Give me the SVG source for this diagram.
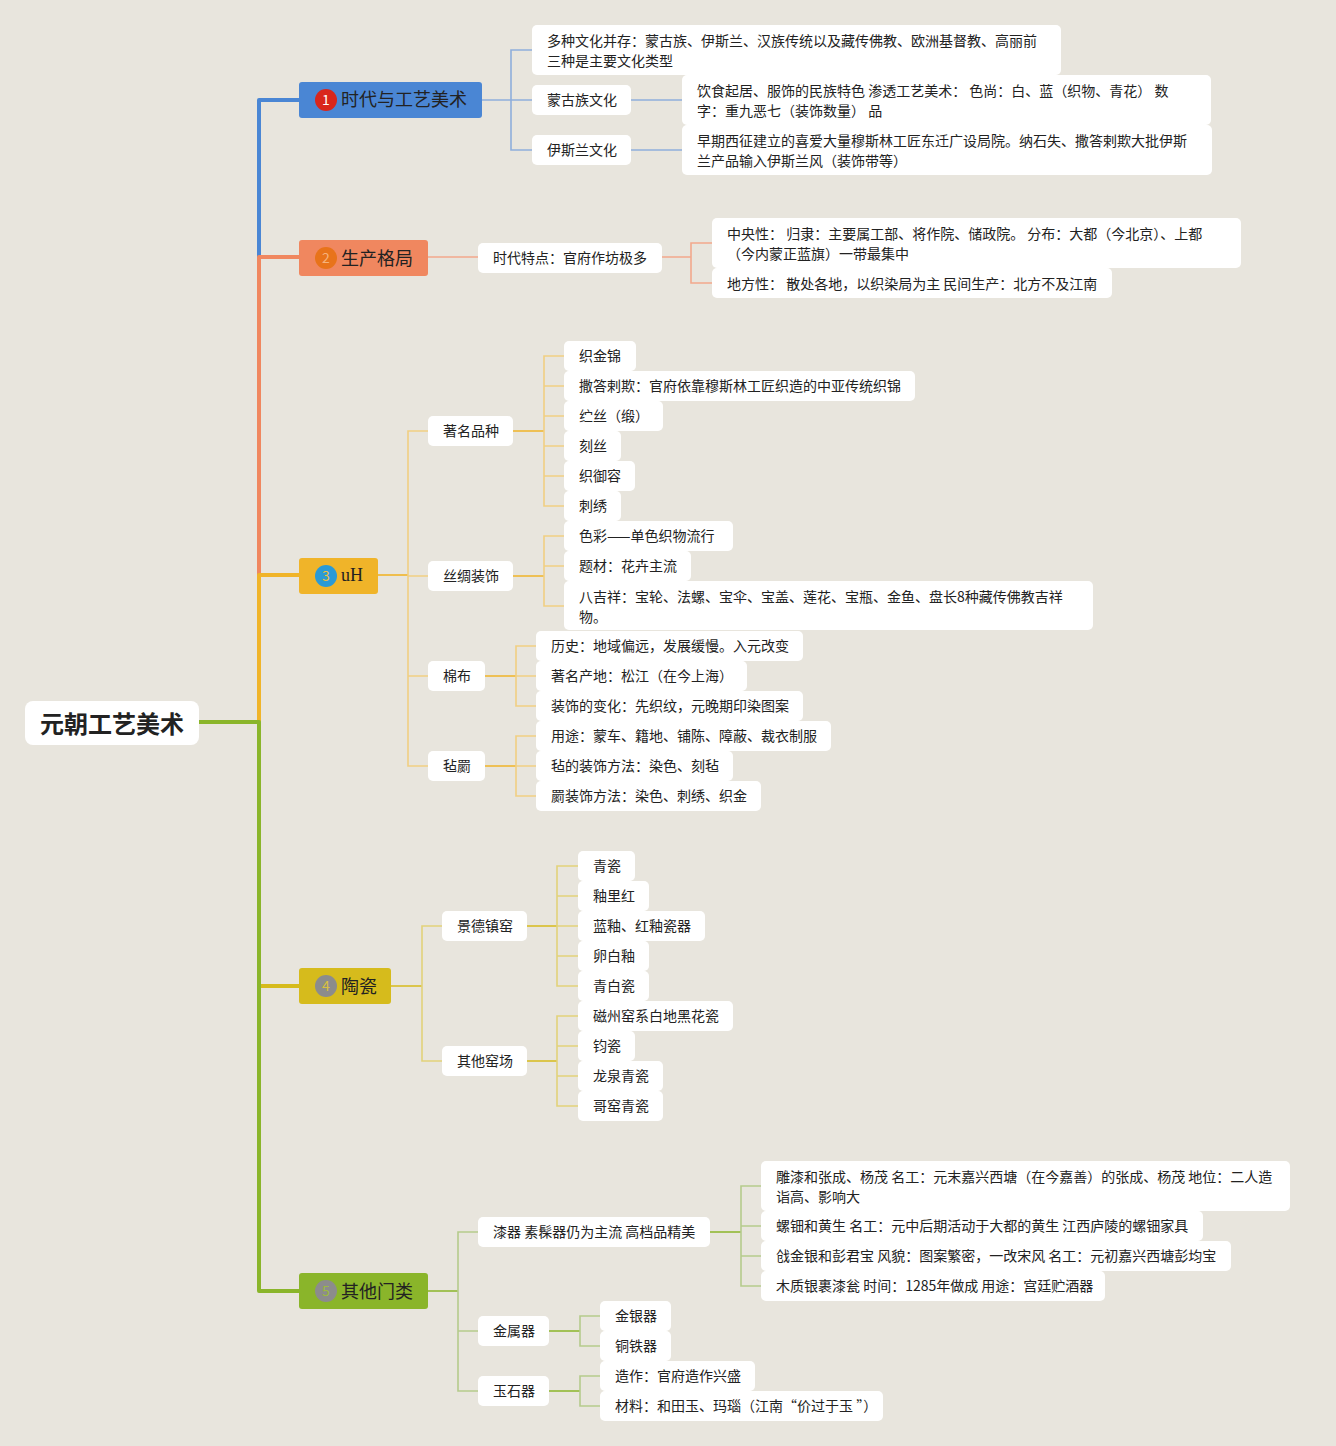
<svg xmlns="http://www.w3.org/2000/svg" width="1336" height="1446" viewBox="0 0 1336 1446">
<style>
text{font-family:"Noto Sans CJK SC","Noto Sans",sans-serif;fill:#222;}
.t{font-size:14px;}
.b{font-size:18px;}
.n{fill:#fff;}
.main{fill:none;stroke-width:4;stroke-linejoin:round;}
.c{fill:none;stroke-width:1.6;}
.c1{stroke:#8eaedb;}
.c2{stroke:#f2a88c;}
.c3{stroke:#f1cf82;}
.c3s{stroke:#f0b429;}
.c4{stroke:#e2d27a;}
.c4s{stroke:#d6bb1c;}
.c5{stroke:#b5cb8c;}
.c5s{stroke:#8ab52a;}
.num{font-size:14px;text-anchor:middle;}
</style>
<rect width="1336" height="1446" fill="#e8e5dd"/>
<g id="connectors">
<path class="main" stroke="#4a86d4" d="M199,722 H259 V100 H299"/>
<path class="main" stroke="#f0875f" d="M199,722 H259 V257 H299"/>
<path class="main" stroke="#f0b429" d="M199,722 H259 V575 H299"/>
<path class="main" stroke="#d6bb1c" d="M199,722 H259 V986 H299"/>
<path class="main" stroke="#8ab52a" d="M199,722 H259 V1291 H299"/>
<!-- branch 1 -->
<path class="c c1" d="M482,100 H511 M532,50 H511 V150 H532 M511,100 H532 M631,100 H682 M631,150 H682"/>
<!-- branch 2 -->
<path class="c c2" d="M428,257 H478 M662,257 H691 M712,243 H691 V283 H712"/>
<!-- branch 3 -->
<path class="c c3s" stroke-width="2" d="M378,575 H408"/>
<path class="c c3" d="M428,431 H408 V766 H428 M408,576 H428 M408,676 H428"/>
<path class="c c3s" stroke-width="2" d="M513,431 H544 M513,576 H544 M485,676 H516 M485,766 H516"/>
<path class="c c3" d="M564,356 H544 V506 H564 M544,386 H564 M544,416 H564 M544,446 H564 M544,476 H564 M564,536 H544 V606 H564 M544,566 H564 M536,646 H516 V706 H536 M516,676 H536 M536,736 H516 V796 H536 M516,766 H536"/>
<!-- branch 4 -->
<path class="c c4s" stroke-width="2" d="M391,986 H422 M527,926 H557 M527,1061 H557"/>
<path class="c c4" d="M442,926 H422 V1061 H442 M578,866 H557 V986 H578 M557,896 H578 M557,926 H578 M557,956 H578 M578,1016 H557 V1106 H578 M557,1046 H578 M557,1076 H578"/>
<!-- branch 5 -->
<path class="c c5s" stroke-width="2" d="M428,1291 H458 M710,1232 H741 M549,1331 H580 M549,1391 H580"/>
<path class="c c5" d="M478,1232 H458 V1391 H478 M458,1331 H478 M761,1186 H741 V1286 H761 M741,1226 H761 M741,1256 H761 M600,1316 H580 V1346 H600 M600,1376 H580 V1406 H600"/>
</g>
<g id="root"><rect x="25" y="701" width="174" height="44" rx="8" class="n"/><text x="112" y="733" font-size="24" font-weight="bold" text-anchor="middle" fill="#111">元朝工艺美术</text></g>

<g id="b1"><rect x="299" y="82" width="183" height="36" rx="3" fill="#4a86d4"/><circle cx="326" cy="100" r="11" fill="#d9261c"/><text x="326" y="105" class="num" fill="#fff" style="fill:#fff">1</text><text x="341" y="106" class="b">时代与工艺美术</text></g>
<g id="b2"><rect x="299" y="240" width="129" height="36" rx="3" fill="#f0875f"/><circle cx="326" cy="258" r="11" fill="#e8731a"/><text x="326" y="263" class="num" style="fill:#f6b27a">2</text><text x="341" y="265" class="b">生产格局</text></g>
<g id="b3"><rect x="299" y="558" width="79" height="36" rx="3" fill="#f0b429"/><circle cx="326" cy="576" r="11" fill="#2a9ad6"/><text x="326" y="581" class="num" style="fill:#f0c040">3</text><text x="341" y="581" font-size="18" style="font-family:'Liberation Serif',serif;fill:#222">uH</text></g>
<g id="b4"><rect x="299" y="968" width="92" height="36" rx="3" fill="#d6bb1c"/><circle cx="326" cy="986" r="11" fill="#8c8c8c"/><text x="326" y="991" class="num" style="fill:#d8c040">4</text><text x="341" y="993" class="b">陶瓷</text></g>
<g id="b5"><rect x="299" y="1273" width="129" height="36" rx="3" fill="#8ab52a"/><circle cx="326" cy="1291" r="11" fill="#8c8c8c"/><text x="326" y="1296" class="num" style="fill:#9cba40">5</text><text x="341" y="1298" class="b">其他门类</text></g>

<!-- branch 1 children -->
<g id="n1a"><rect x="532" y="25" width="529" height="50" rx="5" class="n"/><text x="547" y="46" class="t">多种文化并存：蒙古族、伊斯兰、汉族传统以及藏传佛教、欧洲基督教、高丽前</text><text x="547" y="66" class="t">三种是主要文化类型</text></g>
<g id="n1b"><rect x="532" y="85" width="99" height="30" rx="5" class="n"/><text x="547" y="105" class="t">蒙古族文化</text></g>
<g id="n1b1"><rect x="682" y="75" width="529" height="50" rx="5" class="n"/><text x="697" y="96" class="t">饮食起居、服饰的民族特色 渗透工艺美术： 色尚：白、蓝（织物、青花） 数</text><text x="697" y="116" class="t">字：重九恶七（装饰数量） 品</text></g>
<g id="n1c"><rect x="532" y="135" width="99" height="30" rx="5" class="n"/><text x="547" y="155" class="t">伊斯兰文化</text></g>
<g id="n1c1"><rect x="682" y="125" width="530" height="50" rx="5" class="n"/><text x="697" y="146" class="t">早期西征建立的喜爱大量穆斯林工匠东迁广设局院。纳石失、撒答剌欺大批伊斯</text><text x="697" y="166" class="t">兰产品输入伊斯兰风（装饰带等）</text></g>

<!-- branch 2 children -->
<g id="n2a"><rect x="478" y="243" width="184" height="30" rx="5" class="n"/><text x="493" y="263" class="t">时代特点：官府作坊极多</text></g>
<g id="n2a1"><rect x="712" y="218" width="529" height="50" rx="5" class="n"/><text x="727" y="239" class="t">中央性： 归隶：主要属工部、将作院、储政院。 分布：大都（今北京）、上都</text><text x="727" y="259" class="t">（今内蒙正蓝旗）一带最集中</text></g>
<g id="n2a2"><rect x="712" y="268" width="400" height="30" rx="5" class="n"/><text x="727" y="289" class="t">地方性： 散处各地，以织染局为主 民间生产：北方不及江南</text></g>

<!-- branch 3 children -->
<g id="n3a"><rect x="428" y="416" width="85" height="30" rx="5" class="n"/><text x="443" y="436" class="t">著名品种</text></g>
<g id="n3a1"><rect x="564" y="341" width="72" height="30" rx="5" class="n"/><text x="579" y="361" class="t">织金锦</text></g>
<g id="n3a2"><rect x="564" y="371" width="351" height="30" rx="5" class="n"/><text x="579" y="391" class="t">撒答剌欺：官府依靠穆斯林工匠织造的中亚传统织锦</text></g>
<g id="n3a3"><rect x="564" y="401" width="99" height="30" rx="5" class="n"/><text x="579" y="421" class="t">纻丝（缎）</text></g>
<g id="n3a4"><rect x="564" y="431" width="57" height="30" rx="5" class="n"/><text x="579" y="451" class="t">刻丝</text></g>
<g id="n3a5"><rect x="564" y="461" width="71" height="30" rx="5" class="n"/><text x="579" y="481" class="t">织御容</text></g>
<g id="n3a6"><rect x="564" y="491" width="57" height="30" rx="5" class="n"/><text x="579" y="511" class="t">刺绣</text></g>
<g id="n3b"><rect x="428" y="561" width="85" height="30" rx="5" class="n"/><text x="443" y="581" class="t">丝绸装饰</text></g>
<g id="n3b1"><rect x="564" y="521" width="169" height="30" rx="5" class="n"/><text x="579" y="541" class="t">色彩——单色织物流行</text></g>
<g id="n3b2"><rect x="564" y="551" width="127" height="30" rx="5" class="n"/><text x="579" y="571" class="t">题材：花卉主流</text></g>
<g id="n3b3"><rect x="564" y="581" width="529" height="49" rx="5" class="n"/><text x="579" y="602" class="t">八吉祥：宝轮、法螺、宝伞、宝盖、莲花、宝瓶、金鱼、盘长8种藏传佛教吉祥</text><text x="579" y="622" class="t">物。</text></g>
<g id="n3c"><rect x="428" y="661" width="57" height="30" rx="5" class="n"/><text x="443" y="681" class="t">棉布</text></g>
<g id="n3c1"><rect x="536" y="631" width="267" height="30" rx="5" class="n"/><text x="551" y="651" class="t">历史：地域偏远，发展缓慢。入元改变</text></g>
<g id="n3c2"><rect x="536" y="661" width="211" height="30" rx="5" class="n"/><text x="551" y="681" class="t">著名产地：松江（在今上海）</text></g>
<g id="n3c3"><rect x="536" y="691" width="267" height="30" rx="5" class="n"/><text x="551" y="711" class="t">装饰的变化：先织纹，元晚期印染图案</text></g>
<g id="n3d"><rect x="428" y="751" width="57" height="30" rx="5" class="n"/><text x="443" y="771" class="t">毡罽</text></g>
<g id="n3d1"><rect x="536" y="721" width="295" height="30" rx="5" class="n"/><text x="551" y="741" class="t">用途：蒙车、籍地、铺陈、障蔽、裁衣制服</text></g>
<g id="n3d2"><rect x="536" y="751" width="197" height="30" rx="5" class="n"/><text x="551" y="771" class="t">毡的装饰方法：染色、刻毡</text></g>
<g id="n3d3"><rect x="536" y="781" width="225" height="30" rx="5" class="n"/><text x="551" y="801" class="t">罽装饰方法：染色、刺绣、织金</text></g>

<!-- branch 4 children -->
<g id="n4a"><rect x="442" y="911" width="85" height="30" rx="5" class="n"/><text x="457" y="931" class="t">景德镇窑</text></g>
<g id="n4a1"><rect x="578" y="851" width="57" height="30" rx="5" class="n"/><text x="593" y="871" class="t">青瓷</text></g>
<g id="n4a2"><rect x="578" y="881" width="71" height="30" rx="5" class="n"/><text x="593" y="901" class="t">釉里红</text></g>
<g id="n4a3"><rect x="578" y="911" width="127" height="30" rx="5" class="n"/><text x="593" y="931" class="t">蓝釉、红釉瓷器</text></g>
<g id="n4a4"><rect x="578" y="941" width="71" height="30" rx="5" class="n"/><text x="593" y="961" class="t">卵白釉</text></g>
<g id="n4a5"><rect x="578" y="971" width="71" height="30" rx="5" class="n"/><text x="593" y="991" class="t">青白瓷</text></g>
<g id="n4b"><rect x="442" y="1046" width="85" height="30" rx="5" class="n"/><text x="457" y="1066" class="t">其他窑场</text></g>
<g id="n4b1"><rect x="578" y="1001" width="155" height="30" rx="5" class="n"/><text x="593" y="1021" class="t">磁州窑系白地黑花瓷</text></g>
<g id="n4b2"><rect x="578" y="1031" width="57" height="30" rx="5" class="n"/><text x="593" y="1051" class="t">钧瓷</text></g>
<g id="n4b3"><rect x="578" y="1061" width="85" height="30" rx="5" class="n"/><text x="593" y="1081" class="t">龙泉青瓷</text></g>
<g id="n4b4"><rect x="578" y="1091" width="85" height="30" rx="5" class="n"/><text x="593" y="1111" class="t">哥窑青瓷</text></g>

<!-- branch 5 children -->
<g id="n5a"><rect x="478" y="1217" width="232" height="30" rx="5" class="n"/><text x="493" y="1237" class="t">漆器 素髹器仍为主流 高档品精美</text></g>
<g id="n5a1"><rect x="761" y="1161" width="529" height="50" rx="5" class="n"/><text x="776" y="1182" class="t">雕漆和张成、杨茂 名工：元末嘉兴西塘（在今嘉善）的张成、杨茂 地位：二人造</text><text x="776" y="1202" class="t">诣高、影响大</text></g>
<g id="n5a2"><rect x="761" y="1211" width="442" height="30" rx="5" class="n"/><text x="776" y="1231" class="t">螺钿和黄生 名工：元中后期活动于大都的黄生 江西庐陵的螺钿家具</text></g>
<g id="n5a3"><rect x="761" y="1241" width="470" height="30" rx="5" class="n"/><text x="776" y="1261" class="t">戗金银和彭君宝 风貌：图案繁密，一改宋风 名工：元初嘉兴西塘彭均宝</text></g>
<g id="n5a4"><rect x="761" y="1271" width="344" height="30" rx="5" class="n"/><text x="776" y="1291" class="t">木质银裹漆瓮 时间：1285年做成 用途：宫廷贮酒器</text></g>
<g id="n5b"><rect x="478" y="1316" width="71" height="30" rx="5" class="n"/><text x="493" y="1336" class="t">金属器</text></g>
<g id="n5b1"><rect x="600" y="1301" width="71" height="30" rx="5" class="n"/><text x="615" y="1321" class="t">金银器</text></g>
<g id="n5b2"><rect x="600" y="1331" width="71" height="30" rx="5" class="n"/><text x="615" y="1351" class="t">铜铁器</text></g>
<g id="n5c"><rect x="478" y="1376" width="71" height="30" rx="5" class="n"/><text x="493" y="1396" class="t">玉石器</text></g>
<g id="n5c1"><rect x="600" y="1361" width="155" height="30" rx="5" class="n"/><text x="615" y="1381" class="t">造作：官府造作兴盛</text></g>
<g id="n5c2"><rect x="600" y="1391" width="283" height="30" rx="5" class="n"/><text x="615" y="1411" class="t">材料：和田玉、玛瑙（江南“价过于玉 ”）</text></g>
</svg>
